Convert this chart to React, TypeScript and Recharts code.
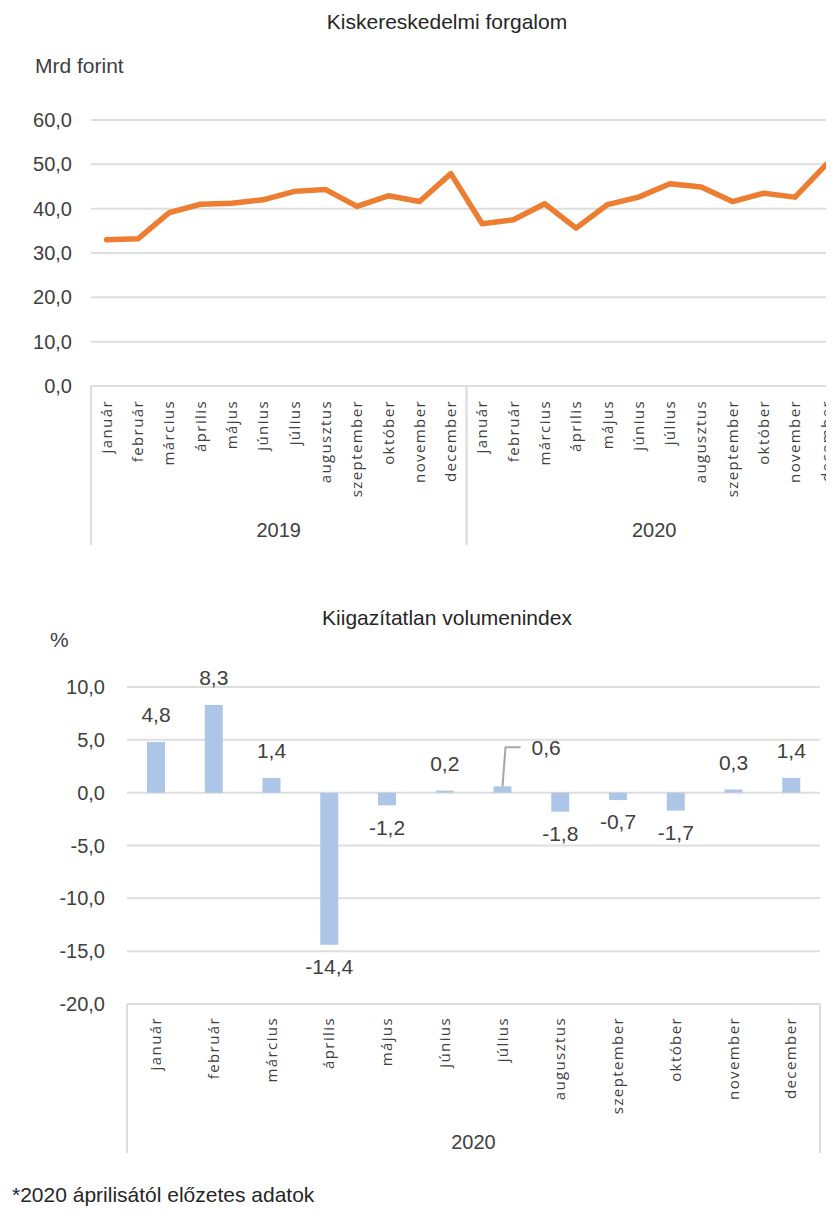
import React from "react";
import { LineChart, Line, BarChart, Bar, XAxis, YAxis, CartesianGrid, LabelList } from "recharts";

const months = ["január", "február", "március", "április", "május", "június", "július", "augusztus", "szeptember", "október", "november", "december"];
const years = ["2019", "2020"];
const turnover2019 = [33.0, 33.2, 39.1, 41.0, 41.2, 42.0, 43.9, 44.3, 40.5, 42.9, 41.6, 47.9];
const turnover2020 = [36.6, 37.5, 41.1, 35.6, 40.9, 42.6, 45.6, 44.9, 41.6, 43.5, 42.6, 50.0];
const turnoverTicks = [0, 10, 20, 30, 40, 50, 60];
const volume2020 = [4.8, 8.3, 1.4, -14.4, -1.2, 0.2, 0.6, -1.8, -0.7, -1.7, 0.3, 1.4];
const volumeTicks = [-20, -15, -10, -5, 0, 5, 10];
// months whose bar label was pulled aside with a leader line
const calloutMonths = ["július"];

const numFont = '"Liberation Sans", Arial, sans-serif';
const monthFont = '"Open Sans", sans-serif';
const textColor = "#404040";
const gridColor = "#dedede";

type Row = { month: string; year: string; value: number };

const lineRows: Row[] = [
  ...months.map((m, i) => ({ month: m, year: years[0], value: turnover2019[i] })),
  ...months.map((m, i) => ({ month: m, year: years[1], value: turnover2020[i] })),
];
const barRows: Row[] = months.map((m, i) => ({ month: m, year: years[1], value: volume2020[i] }));

const fmt = (v: number) => v.toFixed(1).replace(".", ",");

// line chart: plot is 751px wide, categories sit in the middle of equal slots
const linePlotWidth = 751;
const lineHalfSlot = linePlotWidth / lineRows.length / 2;

function GroupTick(props: any) {
  const { x, y, payload, rows, depth, yearY, labelGap, half } = props;
  const i = payload.index;
  const row: Row = rows[i];
  const h = half ?? payload.offset ?? 0;
  const first = i === 0 || rows[i - 1].year !== row.year;
  const last = i === rows.length - 1 || rows[i + 1].year !== row.year;
  const start = rows.findIndex((r: Row) => r.year === row.year);
  const count = rows.filter((r: Row) => r.year === row.year).length;
  const isMid = i - start === Math.floor((count - 1) / 2);
  const midX = count % 2 === 0 ? x + h : x;
  const ty = y + labelGap;
  return (
    <g>
      <text
        x={x}
        y={ty}
        dy="0.35em"
        transform={`rotate(-90, ${x}, ${ty})`}
        textAnchor="end"
        fontFamily={monthFont}
        fontSize={15}
        letterSpacing={1.4}
        fill={textColor}
      >
        {row.month}
      </text>
      {first && <line x1={x - h} x2={x - h} y1={y} y2={y + depth} stroke={gridColor} strokeWidth={2} />}
      {last && <line x1={x + h} x2={x + h} y1={y} y2={y + depth} stroke={gridColor} strokeWidth={2} />}
      {isMid && (
        <text x={midX} y={y + yearY} dy="0.35em" textAnchor="middle" fontFamily={numFont} fontSize={20} fill={textColor}>
          {row.year}
        </text>
      )}
    </g>
  );
}

function VolumeLabel(props: any) {
  const { x, y, width, height, value, index } = props;
  const cx = x + width / 2;
  const v = Number(value);
  const end = v >= 0 ? Math.min(y, y + height) : Math.max(y, y + height);
  const style = { fontFamily: numFont, fontSize: 21, fill: textColor };
  if (calloutMonths.includes(months[index])) {
    return (
      <g>
        <polyline
          points={`${cx},${end} ${cx + 3},${end - 39} ${cx + 18},${end - 39}`}
          fill="none"
          stroke="#a6a6a6"
          strokeWidth={2}
        />
        <text x={cx + 29} y={end - 39} dy="0.35em" {...style}>
          {fmt(v)}
        </text>
      </g>
    );
  }
  const ly = v >= 0 ? end - 27 : end + 22;
  return (
    <text x={cx} y={ly} dy="0.35em" textAnchor="middle" {...style}>
      {fmt(v)}
    </text>
  );
}

const titleStyle: React.CSSProperties = {
  position: "absolute",
  left: 0,
  width: 894,
  textAlign: "center",
  fontFamily: numFont,
  fontSize: 21,
  lineHeight: "30px",
  color: "#262626",
};

const noteStyle: React.CSSProperties = {
  position: "absolute",
  fontFamily: numFont,
  fontSize: 21,
  lineHeight: "30px",
  color: textColor,
};

export default function App() {
  return (
    <div style={{ position: "relative", margin: -8, width: 834, height: 1221, overflow: "hidden", background: "#fff" }}>
      <div style={{ ...titleStyle, top: 7 }}>Kiskereskedelmi forgalom</div>
      <div style={{ ...noteStyle, left: 35, top: 51 }}>Mrd forint</div>
      <div style={{ position: "absolute", left: 0, top: 0 }}>
        <LineChart width={850} height={545} data={lineRows} margin={{ top: 120, right: 8, bottom: 0, left: 0 }}>
          <CartesianGrid vertical={false} stroke={gridColor} strokeWidth={2} />
          <XAxis
            dataKey="month"
            interval={0}
            height={159}
            padding={{ left: lineHalfSlot, right: lineHalfSlot }}
            tickSize={0}
            tickMargin={0}
            tickLine={false}
            axisLine={{ stroke: gridColor, strokeWidth: 2 }}
            tick={<GroupTick rows={lineRows} depth={159} yearY={144} labelGap={14} half={lineHalfSlot} />}
          />
          <YAxis
            width={91}
            domain={[0, 60]}
            ticks={turnoverTicks}
            tickFormatter={fmt}
            axisLine={false}
            tickLine={false}
            tickSize={0}
            tickMargin={19}
            tick={{ fontFamily: numFont, fontSize: 20, fill: textColor }}
          />
          <Line
            dataKey="value"
            type="linear"
            stroke="#ED7D31"
            strokeWidth={5.5}
            dot={false}
            strokeLinecap="round"
            strokeLinejoin="round"
            isAnimationActive={false}
          />
        </LineChart>
      </div>

      <div style={{ ...titleStyle, top: 603 }}>Kiigazítatlan volumenindex</div>
      <div style={{ ...noteStyle, left: 50, top: 625 }}>%</div>
      <div style={{ position: "absolute", left: 0, top: 560 }}>
        <BarChart width={834} height={593} data={barRows} margin={{ top: 127, right: 14, bottom: 0, left: 0 }}>
          <CartesianGrid vertical={false} stroke={gridColor} strokeWidth={2} />
          <XAxis
            dataKey="month"
            interval={0}
            height={149}
            tickSize={0}
            tickMargin={0}
            tickLine={false}
            axisLine={{ stroke: gridColor, strokeWidth: 2 }}
            tick={<GroupTick rows={barRows} depth={149} yearY={138} labelGap={13} />}
          />
          <YAxis
            width={127}
            domain={[-20, 10]}
            ticks={volumeTicks}
            tickFormatter={fmt}
            axisLine={false}
            tickLine={false}
            tickSize={0}
            tickMargin={22}
            tick={{ fontFamily: numFont, fontSize: 20, fill: textColor }}
          />
          <Bar dataKey="value" fill="#adc6e8" barSize={18} isAnimationActive={false}>
            <LabelList dataKey="value" content={<VolumeLabel />} />
          </Bar>
        </BarChart>
      </div>

      <div style={{ ...noteStyle, left: 12, top: 1180, color: "#262626" }}>*2020 áprilisától előzetes adatok</div>
    </div>
  );
}
